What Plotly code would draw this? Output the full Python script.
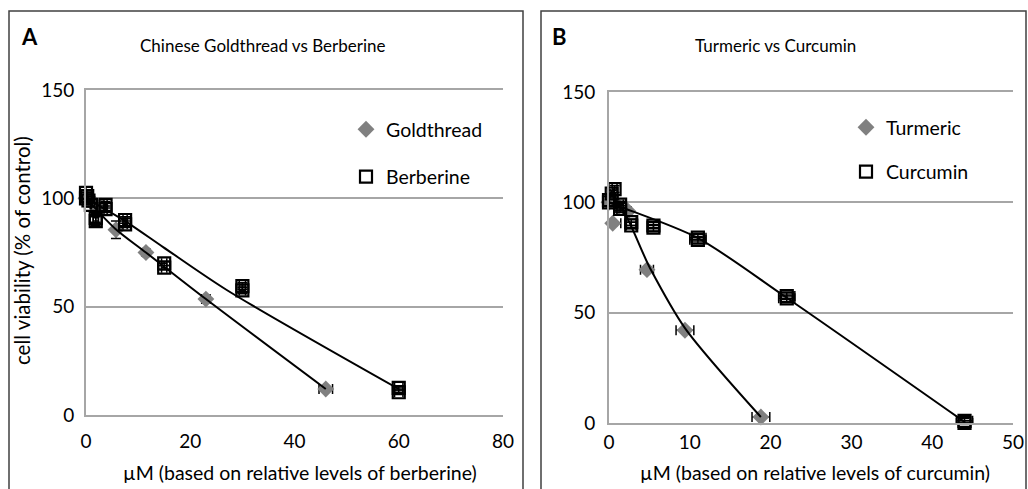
import plotly.graph_objects as go

W, H = 1028, 489
FONT = "Lato"
GRID = "#a6a6a6"

# ---------------- Panel A data ----------------
gold_x = [0, 0.36, 0.72, 1.44, 2.875, 5.75, 11.5, 23, 46]
gold_y = [100, 99.5, 99, 98, 96.5, 85.5, 75, 53.5, 12]
gold_ex = [0, 0, 0, 0.1, 0.2, 0.3, 0.5, 0.8, 1.3]
gold_ey = [1, 1, 1, 1, 1.5, 4, 1.5, 1, 1]

ber_x = [0, 0, 0.23, 0.47, 0.94, 1.875, 1.875, 3.75, 3.75, 7.5, 7.5, 15, 15, 30, 30, 60, 60]
ber_y = [100, 102.5, 101, 99, 97, 91, 89.5, 97, 95, 90, 88, 70, 68, 59.5, 57.5, 12.5, 10.5]
ber_ex = [0, 0, 0, 0, 0.1, 0.5, 0.5, 0.3, 0.3, 0.4, 0.4, 0.5, 0.5, 0.6, 0.6, 0.8, 0.8]
ber_ey = [1, 1, 1, 1, 1, 2, 2, 1.5, 1.5, 1.5, 1.5, 1, 1, 1.5, 1.5, 1, 1]

gold_fit_x = [0, 5.6, 11.5, 23, 46]
gold_fit_y = [100, 86, 75, 53.5, 12]
ber_fit_x = [0, 7.5, 14.8, 27, 60]
ber_fit_y = [100, 89.5, 77.5, 57.7, 12]

# ---------------- Panel B data ----------------
turm_x = [0, 0.29, 0.46, 1.18, 2.35, 4.7, 9.4, 18.8]
turm_y = [100, 101, 90.5, 98, 96, 69.5, 42, 2.7]
turm_ex = [0, 0.1, 1.0, 0.3, 0.4, 0.8, 1.1, 1.1]
turm_ey = [1, 1, 1, 1, 1, 1, 1, 1]

curc_x = [0, 0, 0.34, 0.69, 1.375, 1.375, 2.75, 2.75, 5.5, 5.5, 11, 11, 22, 22, 44, 44]
curc_y = [100, 101, 104, 106, 99, 97, 91, 89.5, 89.5, 88.5, 84, 83, 57.5, 56.5, 1, 0]
curc_ex = [0, 0, 0.2, 0.3, 0.4, 0.4, 0.6, 0.6, 0.7, 0.7, 1, 1, 1, 1, 1, 1]
curc_ey = [1.5, 1.5, 1.5, 1.5, 1.5, 1.5, 1.5, 1.5, 1.5, 1.5, 1.5, 1.5, 1.5, 1.5, 1, 1]

turm_fit_x = [0, 1.4, 5.1, 9.4, 18.8]
turm_fit_y = [100, 98, 70, 43, 2.7]
curc_fit_x = [0, 1.4, 10.9, 21.9, 44]
curc_fit_y = [100, 98, 84, 57, 0.5]

fig = go.Figure()

def err(arr):
    return dict(type="data", array=arr, visible=True, color="black", thickness=1.5, width=5)

def curve(x, y, xa, ya):
    fig.add_trace(go.Scatter(x=x, y=y, mode="lines", line=dict(color="black", width=2, shape="spline", smoothing=0.8),
                             xaxis=xa, yaxis=ya, showlegend=False, hoverinfo="skip", cliponaxis=False))

# Panel A
fig.add_trace(go.Scatter(x=gold_x, y=gold_y, mode="markers", name="Goldthread", legendgroup="g1",
                         marker=dict(symbol="diamond", size=13, color="#808080"),
                         error_x=err(gold_ex), error_y=err(gold_ey), xaxis="x", yaxis="y",
                         legend="legend", cliponaxis=False))
fig.add_trace(go.Scatter(x=ber_x, y=ber_y, mode="markers", name="Berberine", legendgroup="g2",
                         marker=dict(symbol="square-open", size=12, color="black", line=dict(width=2.2)),
                         error_x=err(ber_ex), error_y=err(ber_ey), xaxis="x", yaxis="y",
                         legend="legend", cliponaxis=False))
curve(gold_fit_x, gold_fit_y, "x", "y")
curve(ber_fit_x, ber_fit_y, "x", "y")

# Panel B
fig.add_trace(go.Scatter(x=turm_x, y=turm_y, mode="markers", name="Turmeric", legendgroup="g3",
                         marker=dict(symbol="diamond", size=13, color="#808080"),
                         error_x=err(turm_ex), error_y=err(turm_ey), xaxis="x2", yaxis="y2",
                         legend="legend2", cliponaxis=False))
fig.add_trace(go.Scatter(x=curc_x, y=curc_y, mode="markers", name="Curcumin", legendgroup="g4",
                         marker=dict(symbol="square-open", size=12, color="black", line=dict(width=2.2)),
                         error_x=err(curc_ex), error_y=err(curc_ey), xaxis="x2", yaxis="y2",
                         legend="legend2", cliponaxis=False))
curve(turm_fit_x, turm_fit_y, "x2", "y2")
curve(curc_fit_x, curc_fit_y, "x2", "y2")

tickfont = dict(family=FONT, size=19, color="black")

def xax(domain, rng, dtick, standoff):
    return dict(domain=domain, range=rng, dtick=dtick, tick0=0, showgrid=False, zeroline=False,
                showline=True, mirror=True, linecolor=GRID, linewidth=2, ticks="",
                tickfont=tickfont, ticklabelstandoff=standoff, fixedrange=True)

def yax(domain, anchor, standoff):
    return dict(domain=domain, range=[0, 150], dtick=50, tick0=0, showgrid=True, gridcolor=GRID,
                gridwidth=2, zeroline=False, showline=True, linecolor=GRID, linewidth=2, ticks="",
                tickfont=tickfont, ticklabelstandoff=standoff, anchor=anchor, fixedrange=True)

fig.update_layout(
    width=W, height=H,
    margin=dict(l=0, r=0, t=0, b=0, autoexpand=False),
    paper_bgcolor="white", plot_bgcolor="white",
    font=dict(family=FONT, color="black"),
    xaxis=xax([86 / W, 503 / W], [0, 80], 20, 8) | dict(anchor="y"),
    yaxis=yax([1 - 415 / H, 1 - 90 / H], "x", 6),
    xaxis2=xax([609 / W, 1013 / W], [0, 50], 10, 1) | dict(anchor="y2"),
    yaxis2=yax([1 - 423 / H, 1 - 92 / H], "x2", 8),
    legend=dict(x=346 / W, y=1 - 110 / H, xanchor="left", yanchor="top", font=dict(family=FONT, size=19.5),
                bgcolor="rgba(0,0,0,0)", tracegroupgap=19),
    legend2=dict(x=846 / W, y=1 - 108 / H, xanchor="left", yanchor="top", font=dict(family=FONT, size=19.5),
                 bgcolor="rgba(0,0,0,0)", tracegroupgap=16),
    showlegend=True,
)

# Panel boxes
for x0, x1 in [(9, 523), (541, 1026)]:
    fig.add_shape(type="rect", xref="paper", yref="paper", x0=x0 / W, x1=x1 / W, y0=-0.05, y1=1 - 11 / H,
                  line=dict(color="#404040", width=1.5), fillcolor="rgba(0,0,0,0)", layer="below")

def ann(text, x, y, size=19, bold=False, angle=0):
    fig.add_annotation(text=("<b>%s</b>" % text) if bold else text, x=x / W, y=1 - y / H,
                       xref="paper", yref="paper", showarrow=False, textangle=angle,
                       font=dict(family=FONT, size=size, color="black"), xanchor="center", yanchor="middle")

ann("A", 29, 36, size=22, bold=True)
ann("B", 559, 36, size=22, bold=True)
ann("Chinese Goldthread vs Berberine", 262, 45, size=17)
ann("Turmeric vs Curcumin", 775, 45, size=17)
ann("cell viability (% of control)", 22, 251, size=20.5, angle=-90)
ann("µM (based on relative levels of berberine)", 300, 472, size=19.5)
ann("µM (based on relative levels of curcumin)", 815, 472, size=19.5)

fig.write_html("out.html", config={"displayModeBar": False},
               post_script="document.body.style.margin='0';document.body.style.padding='0';")
